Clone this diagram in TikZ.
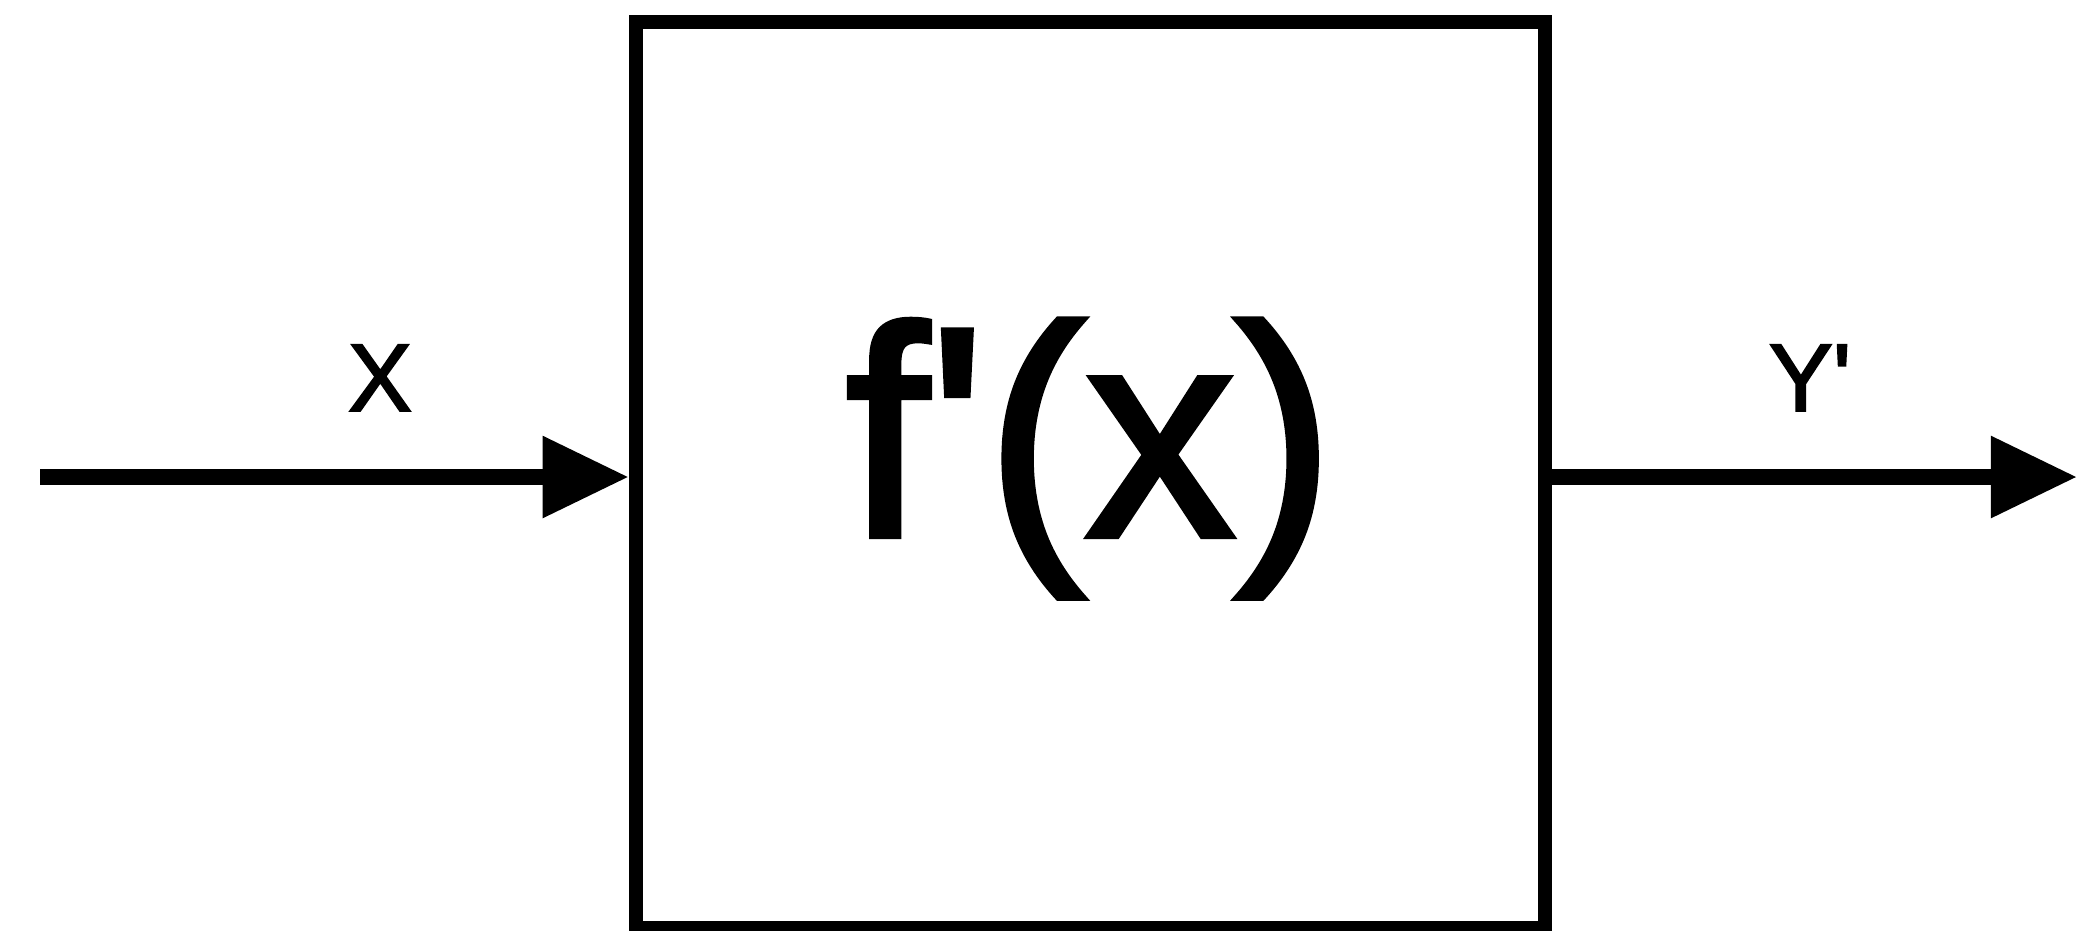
\documentclass[tikz,border=0pt]{standalone}
\usepackage{fontspec}
\setmainfont{Liberation Sans}[Ligatures=TeXOff]
\newfontfamily\heavyface{Liberation Sans}[Ligatures=TeXOff,FakeBold=2]
\usetikzlibrary{arrows.meta}
\tikzset{
  flow/.style={line width=4.4pt,-{Triangle[length=0.86cm,width=0.78cm]}},
  blockbox/.style={draw,line width=4pt,minimum width=9.09cm,minimum height=9.06cm,inner sep=0pt},
  biglabel/.style={font=\heavyface\fontsize{85}{100}\selectfont,inner sep=0pt},
  sidelabel/.style={font=\heavyface\fontsize{27.3}{32}\selectfont,inner sep=0pt,anchor=base}
}
\begin{document}
\begin{tikzpicture}[x=0.01cm,y=-0.01cm]
\useasboundingbox (0,0) rectangle (2077,930);
\node[blockbox] (blk) at (1090.5,475) {};
\node[biglabel,anchor=base] (fx) at (1090,536) {f'(x)};
\coordinate (in) at (40,477);
\coordinate (out) at (2077,477);
\draw[flow] (in) -- (in -| blk.west);
\draw[flow] (out -| blk.east) -- (out);
\node[sidelabel] (xl) at (380,411) {X};
\node[sidelabel] (yl) at (1810,411) {Y'};
\end{tikzpicture}
\end{document}
